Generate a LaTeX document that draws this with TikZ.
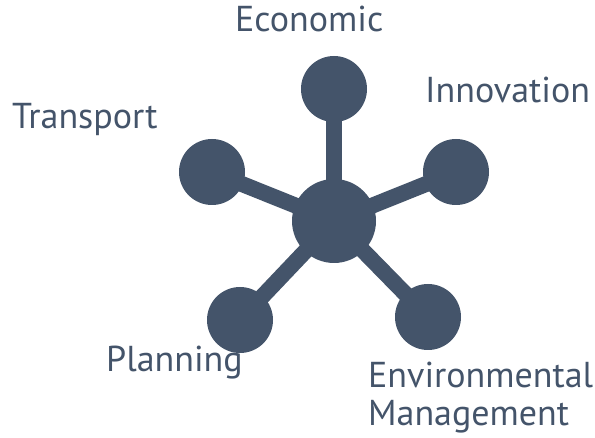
\documentclass[tikz,border=0pt]{standalone}
\usepackage{fontspec}
\setmainfont{PT Sans}
\usetikzlibrary{positioning,backgrounds}
\definecolor{slate}{HTML}{44546A}
\tikzset{
  hubdot/.style={circle,fill=slate,inner sep=0pt,minimum size=84pt},
  dot/.style={circle,fill=slate,inner sep=0pt,minimum size=66pt},
  spoke/.style={draw=slate,line width=16pt},
  lab/.style={text=slate,font=\fontsize{36}{38}\selectfont,inner sep=0pt,anchor=base west}
}
\begin{document}
\begin{tikzpicture}[x=1pt,y=-1pt]
\useasboundingbox (0,0) rectangle (595,438);
\node[hubdot] (hub) at (334,221) {};
\node[dot] (economic) at (334,89) {};
\node[dot] (innovation) at (456,172) {};
\node[dot] (transport) at (212,172) {};
\node[dot] (planning) at (240,320) {};
\node[dot] (envman) at (428,317) {};
\begin{scope}[on background layer]
\foreach \n in {economic,innovation,transport,planning,envman}
\draw[spoke] (hub.center) -- (\n.center);
\end{scope}
\node[lab] (labecon) at (235,32) {Economic};
\node[lab] (labinno) at (425,103) {Innovation};
\node[lab] (labtrans) at (12,129) {Transport};
\node[lab] (labplan) at (106,372) {Planning};
\node[lab] (labenv) at (368,388) {Environmental};
\node[lab] (labman) at (368,426) {Management};
\end{tikzpicture}
\end{document}
